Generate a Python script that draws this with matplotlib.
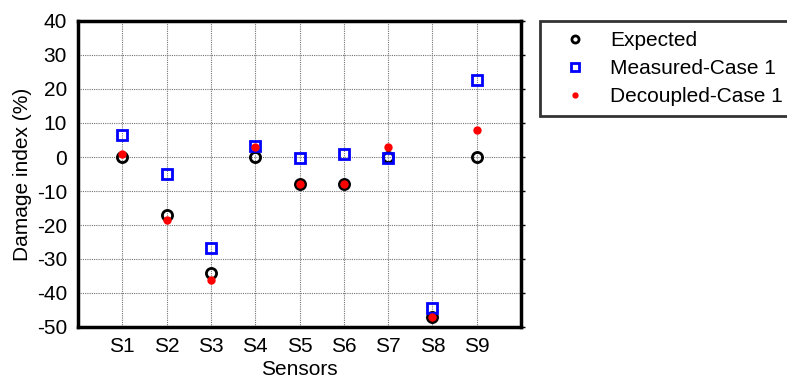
import numpy as np
import matplotlib
matplotlib.use("Agg")
import matplotlib.pyplot as plt

plt.rcParams['font.family'] = ['Liberation Sans', 'DejaVu Sans']
plt.rcParams['axes.unicode_minus'] = False

# sensor names and damage index values (%)
sensors = ['S1', 'S2', 'S3', 'S4', 'S5', 'S6', 'S7', 'S8', 'S9']
expected = [0, -17, -34, 0, -8, -8, 0, -47, 0]
measured = [6.4, -5.0, -26.9, 3.2, -0.4, 0.9, -0.2, -44.3, 22.6]
decoupled = [1.0, -18.4, -36.1, 2.8, -8.0, -8.0, 3.0, -47.1, 7.8]
yticks = [-50, -40, -30, -20, -10, 0, 10, 20, 30, 40]

fig = plt.figure(figsize=(7.87, 3.83), dpi=100)
ax = fig.add_axes([78/787, 1-327/383, (521-78)/787, (327-21)/383])

x = np.arange(1, len(sensors) + 1)
ax.plot(x, expected, 'o', mfc='none', mec='black', mew=2, ms=7.3, label='Expected', zorder=3)
ax.plot(x, measured, 's', mfc='none', mec='#0000ff', mew=2, ms=7.3, label='Measured-Case 1', zorder=4)
ax.plot(x, decoupled, 'o', color='#ff0000', ms=5, label='Decoupled-Case 1', zorder=5)

ax.set_xlim(0, 10)
ax.set_ylim(-50, 40)
ax.set_xticks(x)
ax.set_xticklabels(sensors)
ax.set_yticks(yticks)
ax.grid(True, color='0.45', linestyle=(0, (1, 1)), linewidth=0.8)
ax.set_axisbelow(True)

for s in ax.spines.values():
    s.set_linewidth(2.5)

fs = 15
ax.tick_params(axis='both', labelsize=fs, length=0)
ax.tick_params(axis='x', pad=7)
ax.tick_params(axis='y', pad=5)
ax.tick_params(axis='y', right=True, length=3, width=1, direction='out')
ax.tick_params(axis='y', left=False)

ax.set_xlabel('Sensors', fontsize=fs, labelpad=3)
ax.set_ylabel('Damage index (%)', fontsize=fs, labelpad=3)

leg = fig.legend(loc='upper left', bbox_to_anchor=(540/787, 1-21/383), borderaxespad=0,
                 fontsize=fs, frameon=True, fancybox=False, edgecolor='black',
                 handlelength=2.4, handletextpad=0.45, labelspacing=0.42,
                 borderpad=0.5, markerscale=0.7)
leg.get_frame().set_linewidth(2)

fig.savefig('out.png', dpi=100)
